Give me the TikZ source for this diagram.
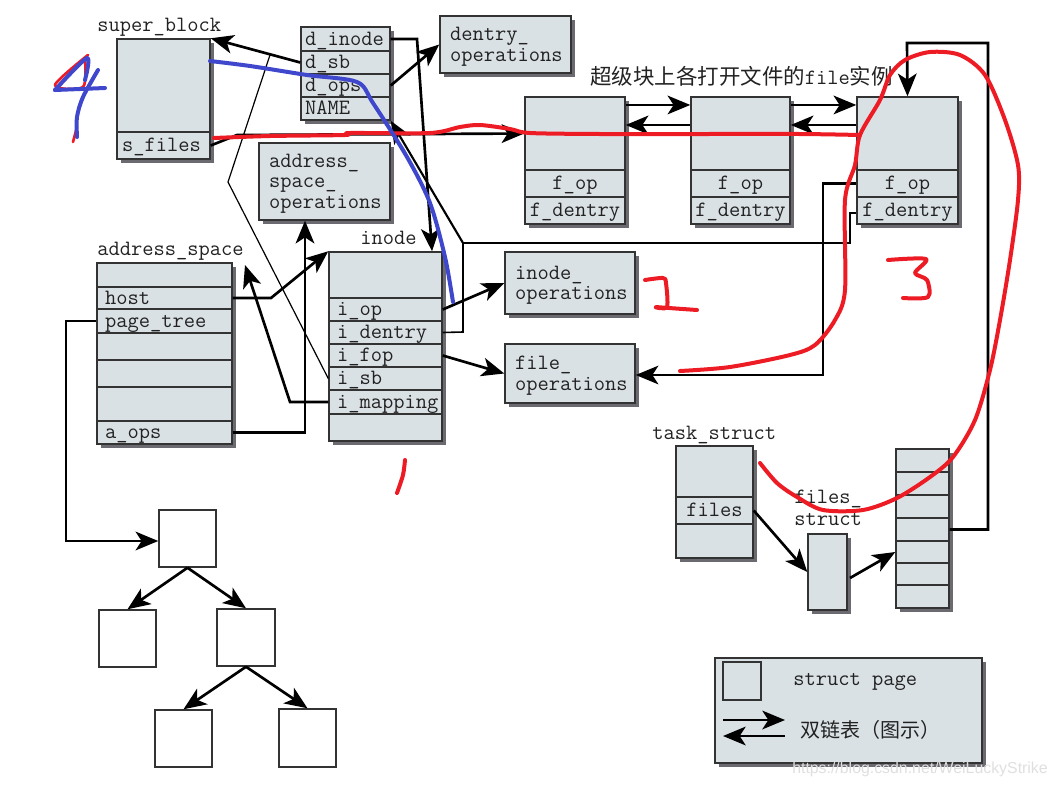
\documentclass[tikz,border=0pt]{standalone}
\usepackage{fontspec}
\newfontfamily\cjk{Noto Sans CJK SC}
\newfontfamily\wmfont{Liberation Sans}
\usetikzlibrary{arrows.meta}
\definecolor{boxfill}{HTML}{DAE1E5}
\definecolor{shadowc}{HTML}{6A6A70}
\definecolor{edgec}{HTML}{333333}
\definecolor{inkc}{HTML}{222222}
\definecolor{penred}{HTML}{ED1C24}
\definecolor{penblue}{HTML}{3F48CC}
\tikzset{
  cell/.style={draw=edgec,line width=1.1pt,fill=boxfill,inner sep=0pt,text=inkc,
    font=\ttfamily\fontsize{16.4}{15.4}\selectfont,text height=9.4pt,text depth=0pt},
  plainbox/.style={cell,fill=white},
  lft/.style={inner xsep=#1*0.75pt,text width={\cw pt-1.5pt*#1},align=left},
  twolines/.style={text depth=15.4pt},
  threelines/.style={text depth=30.8pt},
  lab/.style={anchor=base west,inner sep=0pt,text=inkc,font=\ttfamily\fontsize{16.4}{15.4}\selectfont},
  conn/.style={draw=black,line width=2pt,line join=miter},
  arr/.style={conn,-{Stealth[length=17pt,width=14pt,inset=4.5pt]}},
  thinconn/.style={draw=black,line width=0.9pt},
  shade/.style={fill=shadowc,draw=none},
  pen/.style={line width=3pt,line cap=round,line join=round,smooth,tension=.5},
}
\newcommand\cellbox[7][]{%
  \pgfmathsetmacro\cw{0.75*(#5-#3)}%
  \pgfmathsetmacro\ch{0.75*(#6-#4)}%
  \node[cell,#1,minimum width=\cw pt,minimum height=\ch pt] (#2) at ({(#3+#5)/2},{(#4+#6)/2}) {#7};}
\newcommand\shadowbox[4]{\fill[shade] (#1+4,#2+4) rectangle (#3+4,#4+4);}
\begin{document}
\begin{tikzpicture}[x=0.75pt,y=-0.75pt]
\useasboundingbox (0,0) rectangle (1057,786);
% shadows
\shadowbox{117}{39}{210}{159}
\shadowbox{301}{27}{390}{120}
\shadowbox{440}{16}{571}{73}
\shadowbox{259}{143}{390}{220}
\shadowbox{329}{252}{442}{441}
\shadowbox{97}{263}{232}{444}
\shadowbox{505}{252}{635}{314}
\shadowbox{505}{344}{635}{403}
\shadowbox{525}{97}{625}{224}
\shadowbox{691}{97}{790}{224}
\shadowbox{857}{97}{958}{224}
\shadowbox{676}{446}{753}{558}
\shadowbox{808}{534}{847}{610}
\shadowbox{896}{449}{949}{608}
\shadowbox{715}{658}{982}{763}
% super_block
\node[lab] (lsb) at (97,31) {super\_block};
\cellbox{sb}{117}{39}{210}{132}{}
\cellbox[lft=5]{sfiles}{117}{132}{210}{159}{s\_files}
% dentry
\cellbox[lft=4]{dinode}{301}{27}{390}{51}{d\_inode}
\cellbox[lft=4]{dsb}{301}{51}{390}{74}{d\_sb}
\cellbox[lft=4]{dops}{301}{74}{390}{97}{d\_ops}
\cellbox[lft=4]{dname}{301}{97}{390}{120}{NAME}
% operations
\cellbox[lft=10,twolines]{dop}{440}{16}{571}{73}{dentry\_\\operations}
\cellbox[lft=10,threelines]{asop}{259}{143}{390}{220}{address\_\\space\_\\operations}
\cellbox[lft=10,twolines]{iop}{505}{252}{635}{314}{inode\_\\operations}
\cellbox[lft=10,twolines]{fop}{505}{344}{635}{403}{file\_\\operations}
% inode
\node[lab] (lino) at (360,244) {inode};
\cellbox{ino}{329}{252}{442}{298}{}
\cellbox[lft=8]{iiop}{329}{298}{442}{321}{i\_op}
\cellbox[lft=8]{iden}{329}{321}{442}{344}{i\_dentry}
\cellbox[lft=8]{ifop}{329}{344}{442}{367}{i\_fop}
\cellbox[lft=8]{isb}{329}{367}{442}{390}{i\_sb}
\cellbox[lft=8]{imap}{329}{390}{442}{414}{i\_mapping}
\cellbox{iend}{329}{414}{442}{441}{}
% address_space
\node[lab] (las) at (97,255) {address\_space};
\cellbox{as}{97}{263}{232}{287}{}
\cellbox[lft=8]{host}{97}{287}{232}{309}{host}
\cellbox[lft=8]{ptree}{97}{309}{232}{333}{page\_tree}
\cellbox{asa}{97}{333}{232}{360}{}
\cellbox{asb}{97}{360}{232}{387}{}
\cellbox{asc}{97}{387}{232}{421}{}
\cellbox[lft=8]{aops}{97}{421}{232}{444}{a\_ops}
% files
\node[lab,font=\cjk\fontsize{16.1}{18}\selectfont] (ltitle) at (590,84) {超级块上各打开文件的{\ttfamily\fontsize{16.4}{15.4}\selectfont file}实例};
\cellbox{fa}{525}{97}{625}{170}{}
\cellbox{faop}{525}{170}{625}{197}{f\_op}
\cellbox{fade}{525}{197}{625}{224}{f\_dentry}
\cellbox{fb}{691}{97}{790}{170}{}
\cellbox{fbop}{691}{170}{790}{197}{f\_op}
\cellbox{fbde}{691}{197}{790}{224}{f\_dentry}
\cellbox{fc}{857}{97}{958}{170}{}
\cellbox{fcop}{857}{170}{958}{197}{f\_op}
\cellbox{fcde}{857}{197}{958}{224}{f\_dentry}
% task_struct
\node[lab] (lts) at (652,439) {task\_struct};
\cellbox{ts}{676}{446}{753}{497}{}
\cellbox{tsf}{676}{497}{753}{524}{files}
\cellbox{tse}{676}{524}{753}{558}{}
\node[lab] (lfs) at (794,503) {files\_};
\node[lab] (lfs2) at (794,525) {struct};
\cellbox{fs}{808}{534}{847}{610}{}
\cellbox{fd}{896}{449}{949}{472}{}
\cellbox{fdb}{896}{472}{949}{495}{}
\cellbox{fdc}{896}{495}{949}{518}{}
\cellbox{fdd}{896}{518}{949}{541}{}
\cellbox{fde}{896}{541}{949}{563}{}
\cellbox{fdf}{896}{563}{949}{585}{}
\cellbox{fdg}{896}{585}{949}{608}{}
% tree
\cellbox[plainbox]{pr}{159}{510}{216}{567}{}
\cellbox[plainbox]{pl}{99}{610}{156}{667}{}
\cellbox[plainbox]{pm}{217}{609}{275}{666}{}
\cellbox[plainbox]{pbl}{155}{710}{212}{767}{}
\cellbox[plainbox]{pbr}{279}{709}{336}{767}{}
% legend
\cellbox{leg}{715}{658}{982}{763}{}
\cellbox{legsq}{723}{662}{761}{700}{}
\node[lab] (legt) at (793,685) {struct page};
\coordinate (la1) at (723,720); \coordinate (la2) at (785,720);
\coordinate (lb1) at (785,736); \coordinate (lb2) at (723,736);
\draw[arr] (la1) -- (la2);
\draw[arr] (lb1) -- (lb2);
\node[lab,font=\cjk\fontsize{15}{18}\selectfont] (legc) at (800,737) {双链表（图示）};
% connectors
\draw[arr] (dsb.west) -- (sb.north east);
\draw[arr] (dinode.east) -- (417,39) -- (ino.north east -| 432,252);
\draw[arr] (dops.east) -- (dop.west);
\draw[arr] (sfiles.east) -- (237,135) -- (fa.west);
\draw[thinconn] (isb.west) -- (228,182) -- (270,55);
\draw[conn,line width=1.2pt] (iden.east) -- (463,332) -- (463,243);
\draw[arr,line width=1.6pt] (463,243) -- (dname.south east);
\draw[conn,line width=1.6pt] (463,243) -- (850,243) -- (850,213) -- (fcde.west |- 0,213);
\draw[arr] ([yshift=21.4pt]fa.east) -- ([yshift=21.4pt]fb.west);
\draw[arr] ([yshift=6.4pt]fb.west) -- ([yshift=6.4pt]fa.east);
\draw[arr] ([yshift=21.4pt]fb.east) -- ([yshift=21.4pt]fc.west);
\draw[arr] ([yshift=6.4pt]fc.west) -- ([yshift=6.4pt]fb.east);
\draw[arr,line width=1.6pt] (fcop.west) -- (823,183.5) -- (823,375) -- (fop.east |- 0,375);
\draw[arr] (fdd.east) -- (988,529.5) -- (988,43) -- (907,43) -- (fc.north);
\draw[arr] (host.east) -- (271,298) -- (ino.north west);
\draw[arr] (imap.west) -- (290,402) -- (245,265);
\draw[arr] (aops.east) -- (305,432.5) -- (asop.south -| 305,222);
\draw[arr] (ptree.west) -- (66,321) -- (66,541) -- (pr.west |- 0,541);
\draw[arr] (pr.south) -- (pl.north);
\draw[arr] (pr.south) -- (pm.north);
\draw[arr] (pm.south) -- (pbl.north);
\draw[arr] (pm.south) -- (pbr.north);
\draw[arr] (iiop.east) -- (iop.west);
\draw[arr] (ifop.east) -- (fop.west);
\draw[arr] (tsf.east) -- (fs.west);
\coordinate (fsr) at (850,578);
\draw[arr] (fsr) -- (fde.west);
% hand-drawn strokes
\draw[pen,penred] plot coordinates {(214,138) (270,136) (345,135) (350,133) (430,133) (460,127) (480,125) (510,129) (530,133) (600,134) (700,134) (800,134) (860,135)};
\draw[pen,penred] plot coordinates {(680,371) (730,367) (790,355) (815,345) (835,320) (845,290) (845,200) (855,165) (860,135) (880,100) (890,75) (905,60) (930,52) (960,55) (985,75) (1005,120) (1018,165) (1018,200) (1010,260) (1000,320) (990,370) (975,420) (953,457) (930,477) (897,498) (863,510) (823,510) (797,497) (777,483) (760,463)};
\draw[pen,penblue] plot coordinates {(210,61) (250,66) (307,75) (357,82) (373,103) (407,157) (430,203) (445,257) (453,302)};
\draw[pen,penred,line width=2pt] plot coordinates {(88,55) (55,85) (83,87) (85,60)};
\draw[pen,penred,line width=2pt] plot coordinates {(77,127) (73,142)};
\draw[pen,penblue] plot coordinates {(55,90) (87,58) (85,80)};
\draw[pen,penblue] (55,90) -- (105,88);
\draw[pen,penblue] plot coordinates {(98,70) (83,97) (77,117) (77,137)};
\draw[pen,penred] plot coordinates {(405,460) (403,475) (397,493)};
\draw[pen,penred] plot coordinates {(645,280) (663,278) (666,283) (667,307) (656,307) (697,310)};
\draw[pen,penred] plot coordinates {(888,260) (926,259) (915,273) (927,280) (928,297) (903,298)};
% watermark
\node[anchor=base west,inner sep=0pt,text=white!75!gray,font=\wmfont\fontsize{11.9}{14}\selectfont] (wm) at (792,773) {https://blog.csdn.net/WeiLuckyStrike};
\end{tikzpicture}
\end{document}
